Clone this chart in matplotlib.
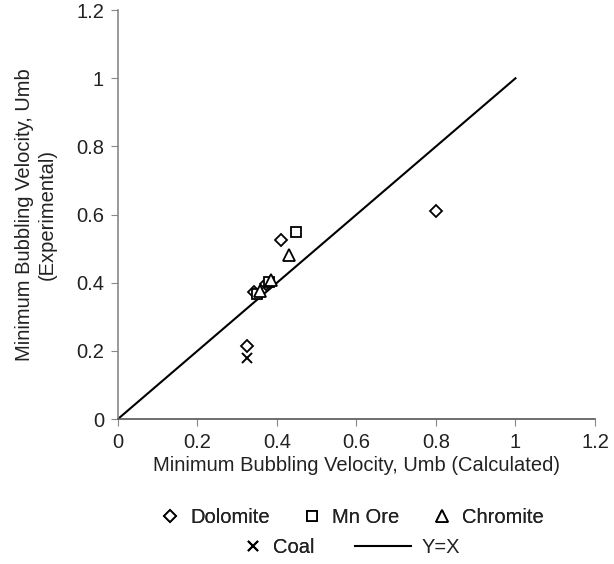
import matplotlib
matplotlib.use("Agg")
import matplotlib.pyplot as plt
from matplotlib.lines import Line2D

plt.rcParams.update({"font.family": "Liberation Sans", "font.size": 14.5})

# calculated vs experimental Umb, per material
dolomite_x = [0.80, 0.41, 0.342, 0.372, 0.325]
dolomite_y = [0.61, 0.525, 0.372, 0.395, 0.213]
mnore_x = [0.448, 0.35, 0.38]
mnore_y = [0.548, 0.368, 0.402]
chromite_x = [0.43, 0.358, 0.386]
chromite_y = [0.48, 0.376, 0.407]
coal_x = [0.325]
coal_y = [0.18]
line_x = [0, 1]
line_y = [0, 1]

TXT = "#222222"
GRID = "#888888"

fig = plt.figure(figsize=(6.14, 5.64), dpi=100)
ax = fig.add_axes([0.192, 0.257, 0.777, 0.725])

ax.plot(line_x, line_y, color="black", lw=1.5, zorder=2)
mk = dict(ls="none", mfc="white", mec="black", mew=1.3, zorder=3)
ax.plot(dolomite_x, dolomite_y, marker="D", ms=6, **mk)
ax.plot(mnore_x, mnore_y, marker="s", ms=7, **mk)
ax.plot(chromite_x, chromite_y, marker="^", ms=8, **mk)
ax.plot(coal_x, coal_y, ls="none", marker="x", ms=7, mew=1.4, color="black", zorder=3)

ax.set_xlim(0, 1.2)
ax.set_ylim(0, 1.2)
ticks = [0, 0.2, 0.4, 0.6, 0.8, 1, 1.2]
tick_labels = ["0", "0.2", "0.4", "0.6", "0.8", "1", "1.2"]
ax.set_xticks(ticks)
ax.set_xticklabels(tick_labels)
ax.set_yticks(ticks)
ax.set_yticklabels(tick_labels)
for s in ["top", "right"]:
    ax.spines[s].set_visible(False)
ax.spines["left"].set_color(GRID)
ax.spines["bottom"].set_color("#555555")
for s in ["left", "bottom"]:
    ax.spines[s].set_linewidth(1.2)
ax.tick_params(direction="out", length=5, color=GRID, labelcolor=TXT, pad=5)
ax.set_xlabel("Minimum Bubbling Velocity, Umb (Calculated)", color=TXT, labelpad=3)
ax.set_ylabel("Minimum Bubbling Velocity, Umb\n(Experimental)", color=TXT,
              labelpad=14, linespacing=1.25)

# legend: row 1 three materials, row 2 coal + Y=X
def mkh(marker, ms, **kw):
    return Line2D([], [], ls="none", marker=marker, ms=ms, color="black", **kw)

open_kw = dict(mfc="white", mec="black", mew=1.3)
row1 = [mkh("D", 6, **open_kw), mkh("s", 7, **open_kw), mkh("^", 8, **open_kw)]
common = dict(frameon=False, loc="center left", borderpad=0, borderaxespad=0,
              handletextpad=0.4, handlelength=1.2)
leg1 = fig.legend(row1, ["Dolomite", "Mn Ore", "Chromite"], ncol=3,
                  bbox_to_anchor=(0.257, 0.083), columnspacing=1.5, **common)
leg2 = fig.legend([mkh("x", 7, mew=1.4)], ["Coal"],
                  bbox_to_anchor=(0.392, 0.030), **common)
common["handletextpad"] = 0.5
common["handlelength"] = 2.8
leg3 = fig.legend([Line2D([], [], color="black", lw=1.5)], ["Y=X"],
                  bbox_to_anchor=(0.578, 0.030), **common)
fig.add_artist(leg1)
fig.add_artist(leg2)
for lg in (leg1, leg2, leg3):
    for t in lg.get_texts():
        t.set_color(TXT)

fig.savefig("out.png", dpi=100, facecolor="white")
